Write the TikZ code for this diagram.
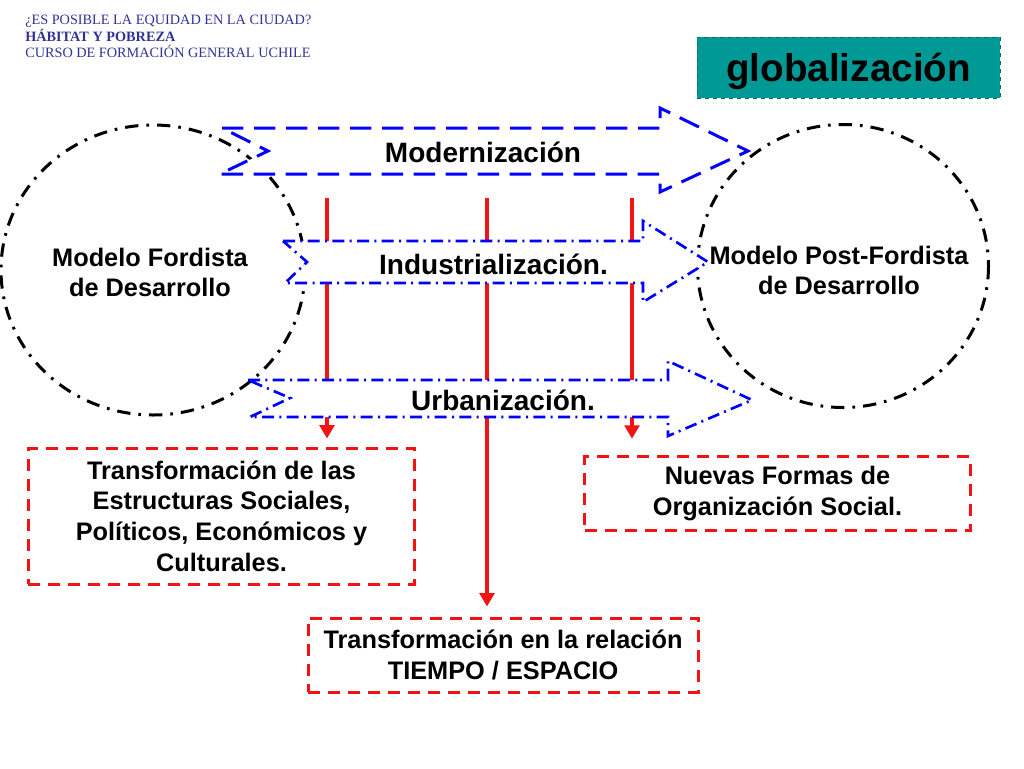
\documentclass[tikz,border=0pt]{standalone}
\usepackage{fontspec}
\setmainfont{Liberation Sans}
\newfontfamily\cabecera{Liberation Serif}
\usetikzlibrary{arrows.meta}
\definecolor{azul}{RGB}{0,0,255}
\definecolor{rojo}{RGB}{240,20,20}
\definecolor{verdeazul}{RGB}{0,153,150}
\definecolor{tinta}{RGB}{50,50,150}
\tikzset{%
  circulo/.style = {draw,line width=2.25pt,
        dash pattern=on 10pt off 6pt on 2pt off 6pt},
  modelo/.style = {align=center,font=\bfseries\fontsize{19}{22.5}\selectfont},
  caja/.style = {rectangle,draw=rojo,line width=2.25pt,
        dash pattern=on 9pt off 6pt,align=center,
        font=\bfseries\fontsize{19}{23}\selectfont},
  eje/.style = {-{Triangle[length=10pt,width=11pt]},rojo,line width=3pt},
  flechamod/.style = {draw=azul,fill=white,line width=2.25pt,
        dash pattern=on 16pt off 8pt},
  flechapunto/.style = {draw=azul,fill=white,line width=2pt,
        dash pattern=on 9pt off 4pt on 1.5pt off 4pt},
  rotulo/.style = {font=\bfseries\fontsize{21}{25}\selectfont}
}

\begin{document}
\begin{tikzpicture}[x=0.75pt,y=-0.75pt]
   \useasboundingbox (0,0) rectangle (1024,768);
   \node[anchor=north west,inner sep=0pt,align=left,text=tinta,
         font=\cabecera\fontsize{10.7}{12.4}\selectfont] (titulo) at (25,15)
        {¿ES POSIBLE LA EQUIDAD EN LA CIUDAD?\\
         \textbf{HÁBITAT Y POBREZA}\\
         CURSO DE FORMACIÓN GENERAL UCHILE};
   \node[draw=verdeazul!70!black,dashed,fill=verdeazul,minimum width=227pt,
         minimum height=46pt,text depth=0pt,
         font=\bfseries\fontsize{29}{34}\selectfont]
        (glob) at (848.5,67.5) {globalización};

   % modelos
   \draw[circulo] (153,270) ellipse [x radius=152, y radius=145];
   \draw[circulo] (843,266) ellipse [x radius=145.5, y radius=141.5];
   \node[modelo] (fordista) at (150,272) {Modelo Fordista\\de Desarrollo};
   \node[modelo] (postfordista) at (839,270) {Modelo Post-Fordista\\de Desarrollo};

   \node[caja,minimum width=290pt,minimum height=102pt] (estructuras)
        at (221.5,516) {Transformación de las\\Estructuras Sociales,\\
        Políticos, Económicos y\\Culturales.};
   \node[caja,minimum width=289pt,minimum height=55pt] (nuevas)
        at (777.5,493.5) {Nuevas Formas de\\Organización Social.};
   \node[caja,minimum width=292.5pt,minimum height=55.5pt] (tiempo)
        at (503,655) {Transformación en la relación\\TIEMPO / ESPACIO};

   \coordinate (e1) at (327,198);
   \coordinate (e2) at (487,198);
   \coordinate (e3) at (632,198);
   \draw[eje,shorten >=6pt] (e1) -- (e1 |- estructuras.north);
   \draw[eje,shorten >=7.5pt] (e2) -- (e2 |- tiempo.north);
   \draw[eje,shorten >=12.5pt] (e3) -- (e3 |- nuevas.north);

   % flechas de bloque
   \draw[flechamod] (222,128) -- (660,128) -- (660,108) -- (748,151)
        -- (660,192) -- (660,174) -- (220,174) -- (268,151) -- cycle;
   \draw[flechapunto] (283,241) -- (643,241) -- (643,221) -- (708,262)
        -- (643,302) -- (643,283) -- (285,283) -- (307,262) -- cycle;
   \draw[flechapunto] (248,380) -- (668,380) -- (668,361) -- (752,400)
        -- (668,436) -- (668,417) -- (250,417) -- (290,398) -- cycle;
   \node[rotulo] (modern) at (483,152) {Modernización};
   \node[rotulo] (indus) at (493.5,264) {Industrialización.};
   \node[rotulo] (urban) at (503,400) {Urbanización.};
\end{tikzpicture}
\end{document}
